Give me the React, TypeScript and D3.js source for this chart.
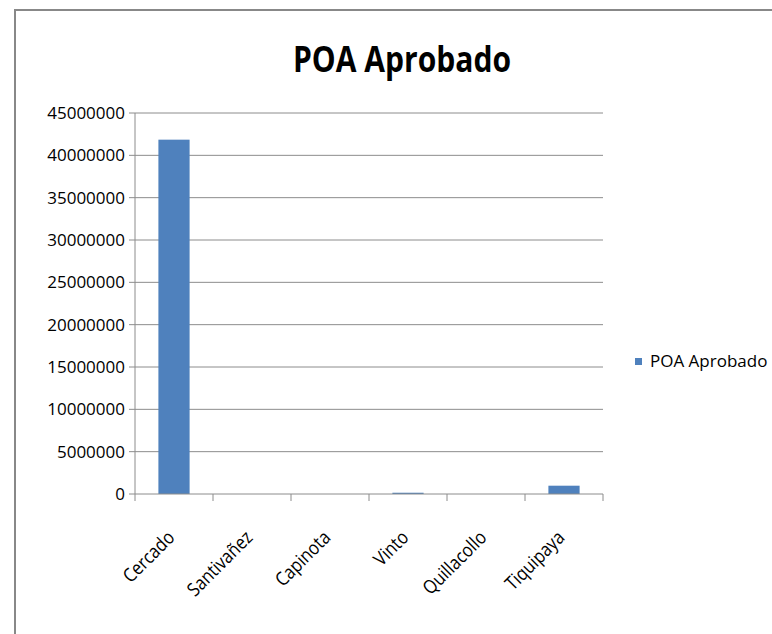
import React from "react";
import { scaleLinear, scaleBand } from "d3";

const categories = ["Cercado", "Santivañez", "Capinota", "Vinto", "Quillacollo", "Tiquipaya"];
const values = [41850000, 0, 0, 150000, 0, 980000];
const yTicks = [0, 5000000, 10000000, 15000000, 20000000, 25000000, 30000000, 35000000, 40000000, 45000000];
const seriesName = "POA Aprobado";
const title = "POA Aprobado";

const App = () => {
  const width = 772;
  const height = 634;
  const left = 135;
  const right = 603;
  const top = 113;
  const bottom = 494;
  const font = "'Open Sans', 'Noto Sans', sans-serif";
  const grid = "#8c8c8c";

  const yScale = scaleLinear().domain([0, 45000000]).range([bottom, top]);
  const xScale = scaleBand().domain(categories).range([left, right]);
  const bw = xScale.bandwidth() * 0.4;

  const gridLines = yTicks.map((t) => (
    <g key={t}>
      {t > 0 && (
        <line x1={left} x2={right} y1={yScale(t)} y2={yScale(t)} stroke={grid} strokeWidth={1} />
      )}
      <line x1={left - 6} x2={left} y1={yScale(t)} y2={yScale(t)} stroke={grid} />
      <text
        x={left - 10}
        y={yScale(t)}
        dy="0.35em"
        textAnchor="end"
        fontSize="17"
        fontFamily={font}
        fill="#000"
      >
        {t}
      </text>
    </g>
  ));

  const bars = categories.map((c, i) => (
    <rect
      key={c}
      x={(xScale(c) as number) + (xScale.bandwidth() - bw) / 2}
      y={yScale(values[i])}
      width={bw}
      height={bottom - yScale(values[i])}
      fill="#4f81bd"
    />
  ));

  const catTicks = [...categories.map((c) => xScale(c) as number), right].map((x, i) => (
    <line key={i} x1={x} x2={x} y1={bottom} y2={bottom + 7} stroke={grid} />
  ));

  // calibri-ish: squeeze the glyphs a bit
  const labels = categories.map((c) => {
    const cx = (xScale(c) as number) + xScale.bandwidth() / 2;
    return (
      <text
        key={c}
        transform={`translate(${cx - 3},${bottom + 40}) rotate(-45) scale(0.87,1)`}
        dy="0.35em"
        textAnchor="end"
        fontSize="19"
        fontFamily={font}
        fill="#000"
      >
        {c}
      </text>
    );
  });

  return (
    <svg
      width={width}
      height={height}
      viewBox={`0 0 ${width} ${height}`}
      style={{ position: "absolute", left: 0, top: 0, background: "#fff" }}
    >
      <rect x={15} y={10} width={width + 20} height={height + 20} fill="#fff" stroke="#888" strokeWidth={2} />
      <text
        x={293}
        y={72}
        textLength={218}
        lengthAdjust="spacingAndGlyphs"
        fontSize="35"
        fontWeight="bold"
        fontFamily={font}
        fill="#000"
      >
        {title}
      </text>
      {gridLines}
      <line x1={left} x2={left} y1={top} y2={bottom} stroke={grid} />
      {bars}
      <line x1={left} x2={right} y1={bottom} y2={bottom} stroke={grid} />
      {catTicks}
      {labels}
      <rect x={635} y={358} width={7} height={7} fill="#4f81bd" />
      <text x={650} y={361.5} dy="0.35em" fontSize="17" fontFamily={font} fill="#000">
        {seriesName}
      </text>
    </svg>
  );
};

export default App;
